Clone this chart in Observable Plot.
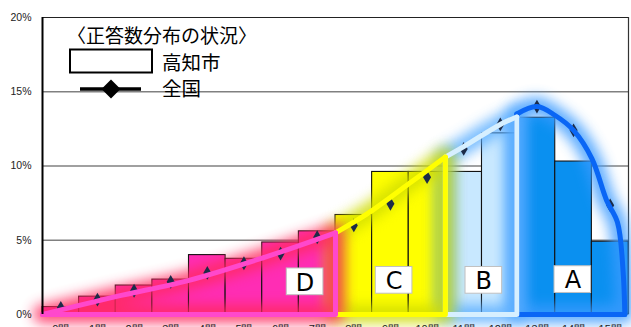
<!DOCTYPE html>
<html><head><meta charset="utf-8">
<script src="https://cdn.jsdelivr.net/npm/d3@7"></script>
<script src="https://cdn.jsdelivr.net/npm/@observablehq/plot@0.6"></script>
<style>
body{margin:0;background:#fff;}
#chart{position:relative;width:631px;height:327px;overflow:hidden;}
</style>
</head><body><div id="chart"></div>
<script>
// ---- data ----
const categories = ["0問","1問","2問","3問","4問","5問","6問","7問","8問","9問","10問","11問","12問","13問","14問","15問"];
const kochi = [0.5, 1.2, 1.95, 2.35, 4.0, 3.75, 4.85, 5.6, 6.7, 9.6, 9.6, 9.6, 12.2, 13.25, 10.3, 4.9];
const national = [0.45, 1.0, 1.6, 2.2, 2.8, 3.45, 4.1, 5.2, 6.0, 7.45, 9.25, 11.15, 12.8, 14.0, 12.4, 7.35];
const groupOf = ["D","D","D","D","D","D","D","D","C","C","C","B","B","A","A","A"];
const yTicks = [0, 5, 10, 15, 20];
// group outline curves (x in question units from left edge, y in %)
const curveD_x = [0, 2, 4, 6, 8];            const curveD_y = [0, 1.2, 2.3, 3.8, 5.5];
const curveC_x = [8, 9, 10, 11];              const curveC_y = [5.5, 7.0, 8.8, 10.6];
const curveB_x = [11, 11.5, 12.5, 12.95];     const curveB_y = [10.6, 11.3, 12.8, 13.3];
const curveA_x = [12.95, 13.5, 14, 14.5, 15, 15.4, 15.7, 15.85, 15.9];
const curveA_y = [13.5, 14.0, 13.4, 12.4, 10.5, 7.7, 6.2, 3.0, 0];
// group label annotations
const labelNames = ["D", "C", "B", "A"];
const labelX = [7.17, 9.6, 12.05, 14.48];
const labelY = [2.2, 2.3, 2.3, 2.35];

// ---- styles ----
const barColor  = {D:"#ff2db4", C:"#ffff00", B:"#c8e8ff", A:"#0a90f0"};
const lineColor = {D:"#ff48cc", C:"#ffff00", B:"#d6efff", A:"#0a66f5"};
const glowColor = {D:"#ff2a5e", C:"#cfdc00", B:"#5aaeff", A:"#3b9bff"};

const bars = categories.map((c, i) => ({i, c, v: kochi[i], g: groupOf[i]}));
const nat = national.map((v, i) => ({x: i + 0.5, v}));
function curve(name, xs, ys) { return xs.map((x, k) => ({g: name, x, y: ys[k]})); }
const curves = [
  curve("A", curveA_x, curveA_y),
  curve("B", curveB_x, curveB_y),
  curve("C", curveC_x, curveC_y),
  curve("D", curveD_x, curveD_y)
];
function sides(pts) {
  const a = pts[0], b = pts[pts.length - 1];
  return [{g:a.g, x:b.x, y:b.y}, {g:a.g, x:b.x, y:0}, {g:a.g, x:a.x, y:0}, {g:a.g, x:a.x, y:a.y}];
}
const labels = labelNames.map((n, k) => ({n, x: labelX[k], y: labelY[k]}));

const marks = [
  Plot.ruleY([5, 10, 15], {stroke: "#808080", strokeWidth: 1.6}),
  Plot.ruleY([20], {stroke: "#222", strokeWidth: 1.2}),
  Plot.ruleX([16], {y1: 0, y2: 20, stroke: "#333", strokeWidth: 1.2}),
  // bars
  Plot.rect(bars, {x1: d => d.i, x2: d => d.i + 1, y1: () => 0, y2: d => d.v,
      fill: d => barColor[d.g], stroke: "#111", strokeWidth: 1.1}),
  // glow (the only area marks; outline only, blurred after render)
  ...curves.map(pts => Plot.areaY(pts, {x: "x", y1: 0, y2: "y", curve: "catmull-rom",
      fill: "none", stroke: glowColor[pts[0].g], strokeWidth: 18, strokeLinejoin: "round"})),
  // national markers
  Plot.dot(nat, {x: "x", y: "v", symbol: "diamond", r: 4.2, fill: "#1c2b48", stroke: "none"}),
  // outlines
  ...curves.flatMap(pts => [
    Plot.line(sides(pts), {x: "x", y: "y", stroke: lineColor[pts[0].g], strokeWidth: 5, strokeLinejoin: "round", strokeLinecap: "round"}),
    Plot.line(pts, {x: "x", y: "y", curve: "catmull-rom", stroke: lineColor[pts[0].g], strokeWidth: 5, strokeLinecap: "round"})
  ]),
  // labels
  Plot.rect(labels, {x1: d => d.x - 0.5, x2: d => d.x + 0.5, y1: d => d.y - 0.9, y2: d => d.y + 0.9,
      fill: "white", stroke: "#c0c0c0", strokeWidth: 1}),
  Plot.text(labels, {x: "x", y: "y", text: "n", fontSize: 24, fill: "#000", fontFamily: "DejaVu Sans", dy: 1}),
  // left axis line
  Plot.ruleX([0], {y1: 0, y2: 20, stroke: "#000", strokeWidth: 2}),
  Plot.axisY({ticks: yTicks, tickFormat: d => d + "%", tickSize: 0, tickPadding: 11, fontSize: 10.5, fill: "#222", label: null}),
  Plot.axisX({ticks: categories.map((c, i) => i + 0.5), tickFormat: d => categories[Math.round(d - 0.5)],
      tickSize: 0, tickPadding: 11, fontSize: 11, fill: "#222", label: null})
];

const plot = Plot.plot({
  width: 631, height: 327,
  marginLeft: 42, marginRight: 3, marginTop: 17, marginBottom: 13,
  x: {type: "linear", domain: [0, 16], axis: null, label: null},
  y: {domain: [0, 20], axis: null, label: null},
  style: {fontFamily: "'Liberation Sans', Arial, sans-serif", background: "white", overflow: "hidden"},
  marks
});

// glow: CSS blur on the area layers
const svg = d3.select(plot);
svg.selectAll('g[aria-label="area"]').style("filter", "blur(6.5px)").style("opacity", 0.85);

// legend
const lg = svg.append("g").attr("font-family", "'Noto Sans CJK JP', sans-serif")
  .attr("fill", "#000").attr("text-anchor", "start");
lg.append("text").attr("x", 67).attr("y", 43).attr("font-size", 19).text("〈正答数分布の状況〉");
lg.append("rect").attr("x", 70).attr("y", 49.5).attr("width", 82).attr("height", 23)
  .attr("fill", "white").attr("stroke", "#000").attr("stroke-width", 2);
lg.append("text").attr("x", 162).attr("y", 70).attr("font-size", 19.5).text("高知市");
lg.append("line").attr("x1", 80).attr("x2", 141).attr("y1", 89).attr("y2", 89)
  .attr("stroke", "#000").attr("stroke-width", 3.5);
lg.append("path").attr("d", "M111,79.5L120.5,89L111,98.5L101.5,89Z").attr("fill", "#000");
lg.append("text").attr("x", 162).attr("y", 96).attr("font-size", 19.5).text("全国");

document.getElementById("chart").appendChild(plot);
</script>
</body></html>
